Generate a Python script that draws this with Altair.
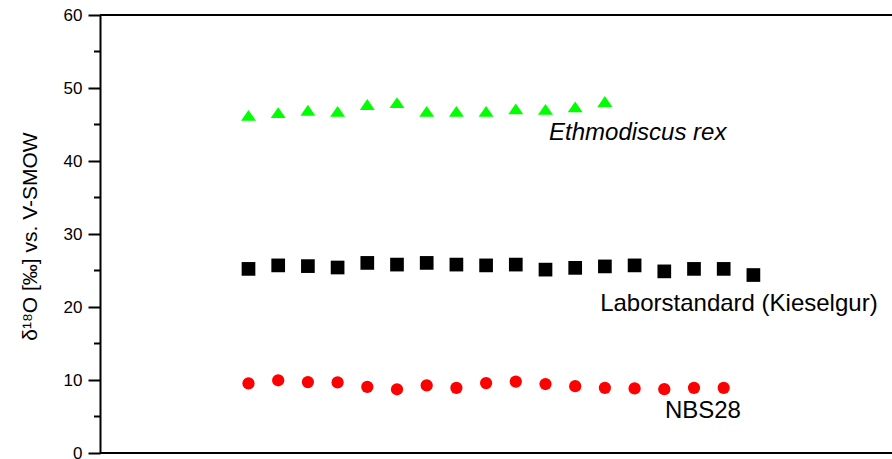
import altair as alt
import pandas as pd

# measurement number (x) for each sample
meas = list(range(5, 23))
ethmo = [46.26, 46.64, 46.95, 46.81, 47.74, 48.01, 46.81, 46.81, 46.81, 47.15, 47.08, 47.42, 48.15]
labor = [25.22, 25.70, 25.60, 25.41, 26.04, 25.81, 26.04, 25.81, 25.70, 25.81, 25.12, 25.36,
         25.56, 25.70, 24.88, 25.22, 25.22, 24.38]
nbs = [9.53, 9.96, 9.71, 9.67, 9.05, 8.73, 9.27, 8.93, 9.58, 9.78, 9.45, 9.15, 8.93, 8.85,
       8.75, 8.93, 8.93]

series = ["Ethmodiscus rex", "Laborstandard (Kieselgur)", "NBS28"]
colors = ["#00ff00", "#000000", "#ff0000"]
shapes = ["M0,-0.72L1,0.72L-1,0.72Z", "square", "circle"]
sizes = [225, 150, 115]

major_ticks = [0, 10, 20, 30, 40, 50, 60]
minor_ticks = [5, 15, 25, 35, 45, 55]

# annotation anchors (data coordinates)
label_x = [15.12, 16.84, 19.02]
label_y = [42.88, 19.45, 4.79]

rows = []
for name, vals in zip(series, [ethmo, labor, nbs]):
    for m, v in zip(meas, vals):
        rows.append({"n": m, "d18O": v, "series": name})
df = pd.DataFrame(rows)
lab = pd.DataFrame({"series": series, "x": label_x, "y": label_y})
minor_df = pd.DataFrame({"v": minor_ticks})
frame_df = pd.DataFrame({"v": [60, 0]})

FONT = "Liberation Sans"
xscale = alt.Scale(domain=[0, 26.667], nice=False, zero=False)
yscale = alt.Scale(domain=[0, 60], nice=False, zero=True)

points = alt.Chart(df).mark_point(filled=True, opacity=1, strokeWidth=0).encode(
    x=alt.X("n:Q", scale=xscale, axis=None),
    y=alt.Y("d18O:Q", scale=yscale,
            axis=alt.Axis(values=major_ticks, tickSize=12,
                          tickWidth=2, tickColor="black", domainColor="black", domainWidth=2,
                          grid=False, labelFont=FONT, labelFontSize=17, labelColor="black",
                          labelPadding=6,
                          title="δ¹⁸O [‰] vs. V-SMOW", titleFont=FONT, titleFontSize=21,
                          titleFontWeight="normal", titleColor="black", titleAngle=270,
                          titleAlign="center", titleBaseline="alphabetic",
                          titleX=-64, titleY=221)),
    color=alt.Color("series:N", scale=alt.Scale(domain=series, range=colors), legend=None),
    shape=alt.Shape("series:N", scale=alt.Scale(domain=series, range=shapes), legend=None),
    size=alt.Size("series:N", scale=alt.Scale(domain=series, range=sizes), legend=None),
)

minor = alt.Chart(minor_df).mark_rule(color="black", strokeWidth=2).encode(
    y=alt.Y("v:Q", scale=yscale),
    x=alt.value(-6), x2=alt.value(0),
)

frame = alt.Chart(frame_df).mark_rule(color="black", strokeWidth=2).encode(
    y=alt.Y("v:Q", scale=yscale),
    x=alt.value(0), x2=alt.value(800),
)

text_it = alt.Chart(lab).transform_filter(alt.datum.series == series[0]).mark_text(
    align="left", baseline="alphabetic", font=FONT, fontSize=24, fontStyle="italic", color="black"
).encode(
    x=alt.X("x:Q", scale=xscale, axis=None),
    y=alt.Y("y:Q", scale=yscale),
    text="series:N",
)

text_n = alt.Chart(lab).transform_filter(alt.datum.series != series[0]).mark_text(
    align="left", baseline="alphabetic", font=FONT, fontSize=24, color="black"
).encode(
    x=alt.X("x:Q", scale=xscale, axis=None),
    y=alt.Y("y:Q", scale=yscale),
    text="series:N",
)

chart = alt.layer(points, minor, frame, text_it, text_n).properties(
    width=792, height=438,
    background="white",
    autosize=alt.AutoSizeParams(type="none"),
    padding={"left": 100, "top": 15, "right": 0, "bottom": 6},
).configure_view(stroke=None)

chart.save("out.html", embed_options={"renderer": "svg", "actions": False})
